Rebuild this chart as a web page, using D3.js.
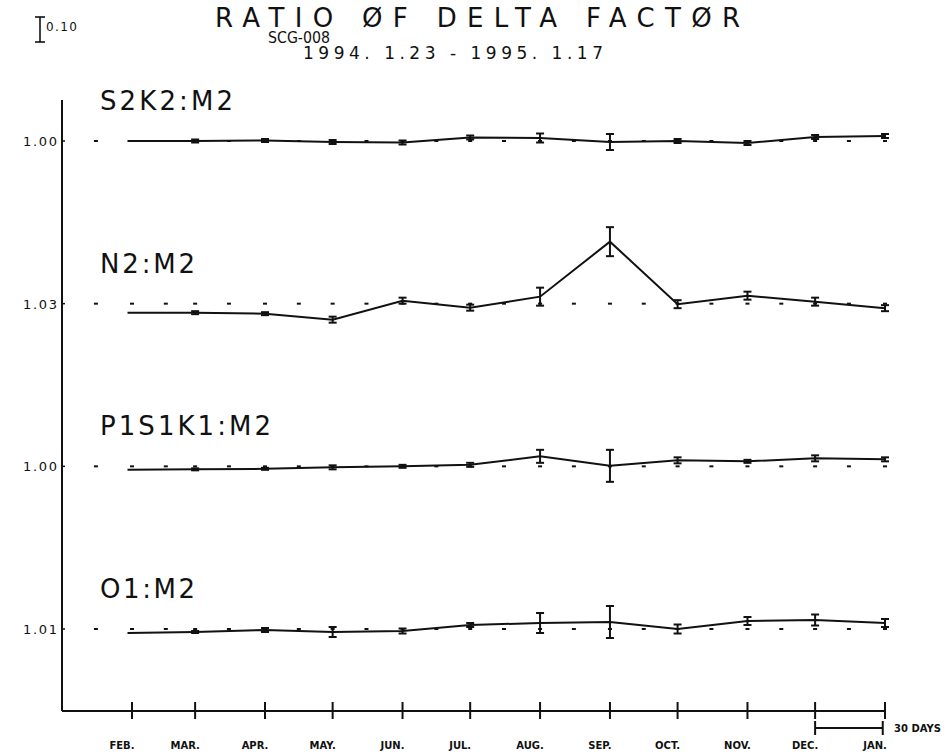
<!DOCTYPE html>
<html>
<head>
<meta charset="utf-8">
<script src="https://cdn.jsdelivr.net/npm/d3@7"></script>
<style>
  body { margin: 0; background: #fff; }
  svg { display: block; }
  text { fill: #111; }
</style>
</head>
<body>
<div id="chart"></div>
<script>
const width = 951
const height = 756

// observation dates (first one a bit before the FEB tick)
const dates = ['1994-01-30', '1994-03-01', '1994-04-01', '1994-05-01', '1994-06-01', '1994-07-01',
  '1994-08-01', '1994-09-01', '1994-10-01', '1994-11-01', '1994-12-01', '1995-01-01']

const monthDates = ['1994-02-01', '1994-03-01', '1994-04-01', '1994-05-01', '1994-06-01', '1994-07-01',
  '1994-08-01', '1994-09-01', '1994-10-01', '1994-11-01', '1994-12-01', '1995-01-01']
const monthLabels = ['FEB.', 'MAR.', 'APR.', 'MAY.', 'JUN.', 'JUL.', 'AUG.', 'SEP.', 'OCT.', 'NOV.', 'DEC.', 'JAN.']

const seriesNames = ['S2K2:M2', 'N2:M2', 'P1S1K1:M2', 'O1:M2']
const refValues = [1.00, 1.03, 1.00, 1.01]
const refLabels = ['1.00', '1.03', '1.00', '1.01']

const s2k2 = [1.000, 1.000, 1.002, 0.996, 0.994, 1.014, 1.012, 0.996, 1.000, 0.992, 1.016, 1.020]
const s2k2Err = [0.006, 0.006, 0.006, 0.008, 0.008, 0.008, 0.018, 0.032, 0.008, 0.008, 0.008, 0.008]

const n2 = [0.994, 0.994, 0.990, 0.966, 1.042, 1.014, 1.058, 1.278, 1.028, 1.062, 1.038, 1.012]
const n2Err = [0.006, 0.006, 0.006, 0.012, 0.012, 0.012, 0.036, 0.058, 0.016, 0.016, 0.016, 0.012]

const p1s1k1 = [0.986, 0.988, 0.990, 0.996, 1.000, 1.006, 1.040, 1.002, 1.024, 1.020, 1.032, 1.028]
const p1s1k1Err = [0.004, 0.004, 0.004, 0.008, 0.006, 0.008, 0.026, 0.064, 0.012, 0.006, 0.012, 0.008]

const o1 = [0.994, 0.998, 1.006, 0.998, 1.002, 1.026, 1.034, 1.038, 1.010, 1.042, 1.046, 1.034]
const o1Err = [0.004, 0.004, 0.008, 0.020, 0.010, 0.008, 0.040, 0.064, 0.018, 0.016, 0.022, 0.016]

const unitBar = 0.10
const scaleDays = 30

const values = [s2k2, n2, p1s1k1, o1]
const errors = [s2k2Err, n2Err, p1s1k1Err, o1Err]

const parse = d3.timeParse('%Y-%m-%d')
const font = "'DejaVu Sans', sans-serif"

const svg = d3
  .select('#chart')
  .append('svg')
  .attr('width', width)
  .attr('height', height)

const axisX = 62
const axisY = 711
const pxPerUnit = 250

const x = d3
  .scaleTime()
  .domain([parse('1994-02-01'), parse('1995-01-01')])
  .range([132, 885])

const row = d3.scalePoint().domain(seriesNames).range([141, 629])

function yScale(i) {
  const base = row(seriesNames[i])
  return d3
    .scaleLinear()
    .domain([refValues[i], refValues[i] + unitBar])
    .range([base, base - unitBar * pxPerUnit])
}

const panels = seriesNames.map((name, i) => ({
  name: name,
  ref: refValues[i],
  refLabel: refLabels[i],
  y: yScale(i),
  points: dates.map((d, j) => ({ date: parse(d), v: values[i][j], e: errors[i][j] }))
}))

// titles
svg
  .append('text')
  .attr('x', 215)
  .attr('y', 27)
  .attr('font-family', font)
  .attr('font-size', 26)
  .attr('textLength', 525)
  .attr('lengthAdjust', 'spacing')
  .text('RATIO ØF DELTA FACTØR')

svg
  .append('text')
  .attr('x', 268)
  .attr('y', 43)
  .attr('font-family', font)
  .attr('font-size', 15)
  .attr('textLength', 62)
  .attr('lengthAdjust', 'spacingAndGlyphs')
  .text('SCG-008')

svg
  .append('text')
  .attr('x', 303)
  .attr('y', 59)
  .attr('font-family', font)
  .attr('font-size', 17)
  .attr('textLength', 300)
  .attr('lengthAdjust', 'spacing')
  .text('1994. 1.23 - 1995. 1.17')

// 0.10 scale bar
const bar = d3.scaleLinear().domain([0, unitBar]).range([42, 42 - unitBar * pxPerUnit])
const barG = svg.append('g').attr('stroke', '#111').attr('stroke-width', 1.6)
barG.append('line').attr('x1', 40).attr('x2', 40).attr('y1', bar(0)).attr('y2', bar(unitBar))
barG.append('line').attr('x1', 35).attr('x2', 45).attr('y1', bar(0)).attr('y2', bar(0))
barG.append('line').attr('x1', 35).attr('x2', 45).attr('y1', bar(unitBar)).attr('y2', bar(unitBar))
svg
  .append('text')
  .attr('x', 46)
  .attr('y', 31)
  .attr('font-family', font)
  .attr('font-size', 12)
  .attr('textLength', 31)
  .attr('lengthAdjust', 'spacing')
  .text(d3.format('.2f')(unitBar))

// axes frame
svg
  .append('line')
  .attr('x1', axisX)
  .attr('x2', axisX)
  .attr('y1', 100)
  .attr('y2', axisY)
  .attr('stroke', '#111')
  .attr('stroke-width', 2)

svg
  .append('line')
  .attr('x1', axisX)
  .attr('x2', x(parse('1995-01-01')))
  .attr('y1', axisY)
  .attr('y2', axisY)
  .attr('stroke', '#111')
  .attr('stroke-width', 2)

svg
  .append('g')
  .selectAll('line')
  .data(monthDates)
  .enter()
  .append('line')
  .attr('x1', d => x(parse(d)))
  .attr('x2', d => x(parse(d)))
  .attr('y1', axisY - 9)
  .attr('y2', axisY + 8)
  .attr('stroke', '#111')
  .attr('stroke-width', 2)

svg
  .append('g')
  .selectAll('text')
  .data(monthDates)
  .enter()
  .append('text')
  .attr('x', d => x(parse(d)) - 10)
  .attr('y', 749)
  .attr('text-anchor', 'middle')
  .attr('font-family', font)
  .attr('font-weight', 'bold')
  .attr('font-size', 10)
  .text((d, i) => monthLabels[i])

// 30 days bar
const dayStart = parse('1994-12-01')
const dayEnd = d3.timeDay.offset(dayStart, scaleDays)
const dg = svg.append('g').attr('stroke', '#111').attr('stroke-width', 2)
dg.append('line').attr('x1', x(dayStart)).attr('x2', x(dayEnd)).attr('y1', 728).attr('y2', 728)
dg.append('line').attr('x1', x(dayStart)).attr('x2', x(dayStart)).attr('y1', 721).attr('y2', 735)
dg.append('line').attr('x1', x(dayEnd)).attr('x2', x(dayEnd)).attr('y1', 721).attr('y2', 735)
svg
  .append('text')
  .attr('x', 894)
  .attr('y', 732)
  .attr('font-family', font)
  .attr('font-weight', 'bold')
  .attr('font-size', 10)
  .text(scaleDays + ' DAYS')

// half-month marks for the dotted reference lines
const halfMonths = []
d3.timeMonth.range(parse('1994-01-01'), parse('1995-02-01')).forEach(m => {
  halfMonths.push(m, d3.timeDay.offset(m, 15))
})
const refMarks = halfMonths.filter(d => x(d) > 90 && x(d) < 890)

const line = d3
  .line()
  .x(d => x(d.date))

const panelG = svg
  .selectAll('g.panel')
  .data(panels)
  .enter()
  .append('g')
  .attr('class', 'panel')

panelG.each(function(p) {
  const g = d3.select(this)
  const y0 = p.y(p.ref)

  g.append('text')
    .attr('x', 57)
    .attr('y', y0 + 5)
    .attr('text-anchor', 'end')
    .attr('font-family', font)
    .attr('font-size', 13)
    .attr('textLength', 34)
    .attr('lengthAdjust', 'spacing')
    .text(p.refLabel)

  g.append('line')
    .attr('x1', axisX)
    .attr('x2', axisX + 3)
    .attr('y1', y0)
    .attr('y2', y0)
    .attr('stroke', '#111')
    .attr('stroke-width', 1.5)

  g.append('text')
    .attr('x', 100)
    .attr('y', y0 - 31)
    .attr('font-family', font)
    .attr('font-size', 26)
    .attr('textLength', p.name.length * 19)
    .attr('lengthAdjust', 'spacing')
    .text(p.name)

  g.append('g')
    .selectAll('line')
    .data(refMarks)
    .enter()
    .append('line')
    .attr('x1', d => x(d) - 2)
    .attr('x2', d => x(d) + 2)
    .attr('y1', y0)
    .attr('y2', y0)
    .attr('stroke', '#111')
    .attr('stroke-width', 2)

  g.append('path')
    .datum(p.points)
    .attr('d', line.y(d => p.y(d.v)))
    .attr('fill', 'none')
    .attr('stroke', '#111')
    .attr('stroke-width', 2)

  const eb = g
    .append('g')
    .attr('stroke', '#111')
    .attr('stroke-width', 2)
    .selectAll('g')
    .data(p.points.slice(1))
    .enter()
    .append('g')

  eb.append('line')
    .attr('x1', d => x(d.date))
    .attr('x2', d => x(d.date))
    .attr('y1', d => p.y(d.v - d.e))
    .attr('y2', d => p.y(d.v + d.e))
  eb.append('line')
    .attr('x1', d => x(d.date) - 4)
    .attr('x2', d => x(d.date) + 4)
    .attr('y1', d => p.y(d.v - d.e))
    .attr('y2', d => p.y(d.v - d.e))
  eb.append('line')
    .attr('x1', d => x(d.date) - 4)
    .attr('x2', d => x(d.date) + 4)
    .attr('y1', d => p.y(d.v + d.e))
    .attr('y2', d => p.y(d.v + d.e))
})
</script>
</body>
</html>
